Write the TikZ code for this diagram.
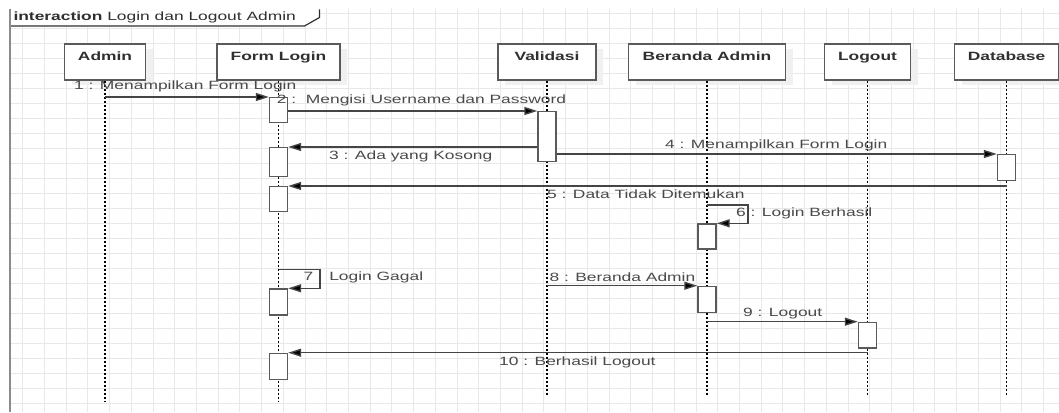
\documentclass[tikz,border=0pt]{standalone}
\usepackage{fontspec}
\setmainfont{Liberation Sans}
\usetikzlibrary{arrows.meta,shadows}
\definecolor{gridgray}{HTML}{E8E8E8}
\definecolor{framegray}{HTML}{8C8C8C}
\definecolor{inkgray}{HTML}{454545}
\definecolor{boxgray}{HTML}{5A5A5A}
\definecolor{txtgray}{HTML}{4A4A4A}
\definecolor{headtxt}{HTML}{303030}
% text in this sheet is set 1.45 times wider than normal
\newcommand\wide[1]{\scalebox{1.45}[1]{#1}}
\tikzset{
  gridline/.style={draw=gridgray, line width=1pt},
  head/.style={draw=boxgray, line width=1.4pt, fill=white, anchor=north,
    inner xsep=0pt, inner ysep=0pt, text height=16pt, text depth=20pt,
    minimum height=36pt, font=\fontsize{12}{14}\selectfont\bfseries, text=headtxt,
    drop shadow={shadow xshift=7pt, shadow yshift=-5pt, fill=black!6, opacity=1}},
  lifeline/.style={draw=black, line width=1.4pt, dash pattern=on 2pt off 2pt},
  actbox/.style={draw=boxgray, line width=1.4pt, fill=white, anchor=north,
    minimum width=18pt, inner sep=0pt},
  msg/.style={draw=inkgray, line width=1.4pt,
    -{Triangle[length=13pt,width=8pt,fill=black]}},
  lbl/.style={anchor=base west, inner sep=0pt, text=txtgray},
}
\begin{document}
\begin{tikzpicture}[x=1pt,y=-1pt,font=\fontsize{12}{14}\selectfont]
\useasboundingbox (0,0) rectangle (1059,412);
\fill[white] (0,0) rectangle (1059,412);

% background grid
\foreach \k in {0,...,48} \draw[gridline] ({22.7+21.72*\k},8) -- ({22.7+21.72*\k},412);
\foreach \k in {0,...,26} \draw[gridline] (10,{13.3+15*\k}) -- (1059,{13.3+15*\k});

% interaction frame with its name tab
\fill[white] (10,0) -- (319.5,0) -- (319.5,17.5) -- (304.5,26) -- (10,26) -- cycle;
\draw[draw=headtxt, line width=1.2pt] (319.5,9.5) -- (319.5,17.5) -- (304.5,26) -- (10,26);
\draw[draw=framegray, line width=2.2pt] (10,9.5) -- (10,412);
\node[anchor=base west, inner sep=0pt, text=headtxt] (title) at (13.3,21)
  {\wide{\textbf{interaction} Login dan Logout Admin}};

% lifeline heads
\node[head, minimum width=81pt]  (hA) at (105,43.3)    {\wide{Admin}};
\node[head, minimum width=123pt] (hF) at (278.5,43.3)  {\wide{Form Login}};
\node[head, minimum width=98pt]  (hV) at (547,43.3)    {\wide{Validasi}};
\node[head, minimum width=157pt] (hB) at (707,43.3)    {\wide{Beranda Admin}};
\node[head, minimum width=86pt]  (hL) at (867.5,43.3)  {\wide{Logout}};
\node[head, minimum width=104pt] (hD) at (1006.5,43.3) {\wide{Database}};

% lifeline ends
\coordinate (eA) at (hA |- 0,402);
\coordinate (eF) at (hF |- 0,402);
\coordinate (eV) at (hV |- 0,395);
\coordinate (eB) at (hB |- 0,395);
\coordinate (eL) at (hL |- 0,395);
\coordinate (eD) at (hD |- 0,395);
\foreach \h/\e in {hA/eA,hF/eF,hV/eV,hB/eB,hL/eL,hD/eD}
  \draw[lifeline] (\h.south) -- (\e);

% activation bars
\node[actbox, minimum height=24.5pt] (f1) at (hF |- 0,97)    {};
\node[actbox, minimum height=50pt]   (v1) at (hV |- 0,111)   {};
\node[actbox, minimum height=29pt]   (f2) at (hF |- 0,147)   {};
\node[actbox, minimum height=26pt]   (d1) at (hD |- 0,154)   {};
\node[actbox, minimum height=25pt]   (f3) at (hF |- 0,186)   {};
\node[actbox, minimum height=25pt]   (b1) at (hB |- 0,223.3) {};
\node[actbox, minimum height=26pt]   (f4) at (hF |- 0,288.3) {};
\node[actbox, minimum height=26pt]   (b2) at (hB |- 0,285.7) {};
\node[actbox, minimum height=25.5pt] (l1) at (hL |- 0,321.7) {};
\node[actbox, minimum height=26.3pt] (f5) at (hF |- 0,352.7) {};

% messages
\draw[msg] (hA |- f1.north) -- (f1.north west);
\draw[msg] (f1.east |- v1.north) -- (v1.north west);
\draw[msg] (v1.west |- f2.north) -- (f2.north east);
\draw[msg] (v1.east |- d1.north) -- (d1.north west);
\draw[msg] (hD |- f3.north) -- (f3.north east);
\coordinate (s6) at (hB |- 0,205);
\draw[msg] (s6) -- ++(41,0) |- (b1.north east);
\coordinate (s7) at (hF |- 0,269.3);
\draw[msg] (s7) -- ++(41.5,0) |- (f4.north east);
\draw[msg] (hV |- b2.north) -- (b2.north west);
\draw[msg] (hB |- l1.north) -- (l1.north west);
\draw[msg] (hL |- f5.north) -- (f5.north east);

% message labels
\node[lbl] (m1)  at (74,89.5)    {\wide{1 : Menampilkan Form Login}};
\node[lbl] (m2)  at (276.7,103)  {\wide{2 :\ \ Mengisi Username dan Password}};
\node[lbl] (m3)  at (329,159)    {\wide{3 : Ada yang Kosong}};
\node[lbl] (m4)  at (665,148.3)  {\wide{4 : Menampilkan Form Login}};
\node[lbl] (m5)  at (547,198.3)  {\wide{5 : Data Tidak Ditemukan}};
\node[lbl] (m6)  at (736,216.7)  {\wide{6 : Login Berhasil}};
\node[lbl] (m7)  at (303.3,280)  {\wide{7 : Login Gagal}};
\node[lbl] (m8)  at (549.3,281)  {\wide{8 : Beranda Admin}};
\node[lbl] (m9)  at (743,316.5)  {\wide{9 : Logout}};
\node[lbl] (m10) at (499,365.7)  {\wide{10 : Berhasil Logout}};
\end{tikzpicture}
\end{document}
